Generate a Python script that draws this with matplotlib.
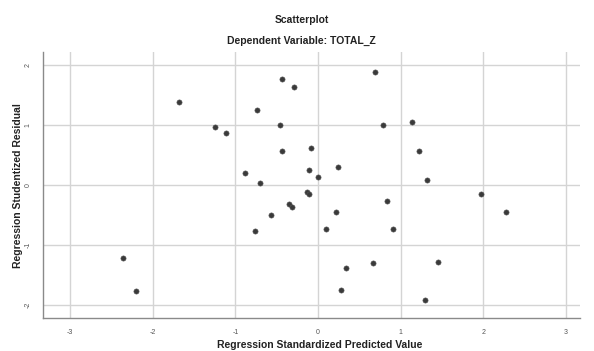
import matplotlib
matplotlib.use("Agg")
import matplotlib.pyplot as plt

pred = [-2.36, -2.20, -1.68, -1.25, -1.12, -0.88, -0.70, -0.76, -0.57, -0.74,
        -0.44, -0.29, -0.46, -0.44, -0.35, -0.31, -0.08, -0.11, -0.13, -0.11,
        0.00, 0.10, 0.22, 0.24, 0.34, 0.28, 0.69, 0.79, 0.67, 0.83,
        0.91, 1.14, 1.22, 1.32, 1.45, 1.29, 1.97, 2.27]
resid = [-1.22, -1.77, 1.38, 0.97, 0.87, 0.20, 0.03, -0.77, -0.50, 1.25,
         1.77, 1.63, 1.00, 0.57, -0.32, -0.37, 0.62, 0.25, -0.12, -0.15,
         0.13, -0.73, -0.45, 0.30, -1.38, -1.75, 1.88, 1.00, -1.30, -0.27,
         -0.73, 1.05, 0.57, 0.08, -1.28, -1.92, -0.15, -0.45]
xticks = [-3, -2, -1, 0, 1, 2, 3]
yticks = [-2, -1, 0, 1, 2]

plt.rcParams['font.family'] = ['Liberation Sans', 'DejaVu Sans']

fig = plt.figure(figsize=(5.94, 3.51), dpi=100)
ax = fig.add_axes([0.0724, 0.094, 0.904, 0.758])
ax.set_xlim(-3.33, 3.17)
ax.set_ylim(-2.22, 2.22)
ax.set_xticks(xticks)
ax.set_yticks(yticks)
ax.set_xticklabels([str(t) for t in xticks])
ax.set_yticklabels([str(t) for t in yticks], rotation=90, va='center')
ax.grid(True, color='#d4d4d4', linewidth=1.0)
ax.set_axisbelow(True)
for s in ['top', 'right']:
    ax.spines[s].set_visible(False)
for s in ['left', 'bottom']:
    ax.spines[s].set_color('#8a8a8a')
    ax.spines[s].set_linewidth(1.0)
ax.tick_params(length=0, labelsize=5, labelcolor='#555555', pad=8)
ax.scatter(pred, resid, s=14, color='#3a3a3a', edgecolors='#555555', linewidths=0.4, zorder=3)

lab = dict(fontsize=7.5, color='#222222', fontweight='bold')
fig.text(0.539, 0.017, 'Regression Standardized Predicted Value', ha='center', va='center', **lab)
fig.text(0.0303, 0.470, 'Regression Studentized Residual', ha='center', va='center', rotation=90, **lab)
fig.text(0.508, 0.943, 'Scatterplot', ha='center', va='center', **lab)
fig.text(0.507, 0.883, 'Dependent Variable: TOTAL_Z', ha='center', va='center', **lab)
fig.savefig('out.png', dpi=100)
